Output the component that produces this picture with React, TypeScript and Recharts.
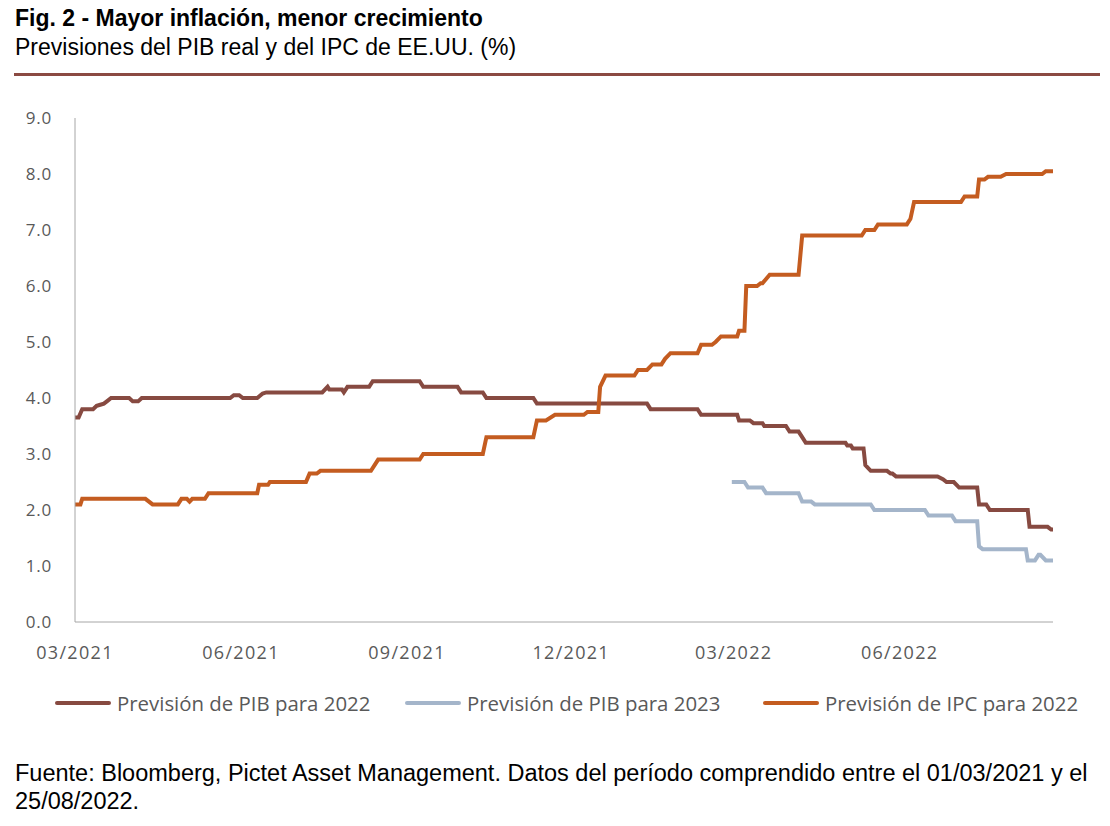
import React from 'react';
import { LineChart, Line, XAxis, YAxis } from 'recharts';

// days counted from 01/03/2021 -> value (%)
const pib2022Days = [0, 2, 4, 10, 12, 14, 16, 18, 20, 30, 32, 35, 37, 86, 88, 91, 93, 101, 104, 106, 137, 140, 141, 148, 149, 151, 163, 165, 191, 193, 212, 214, 226, 228, 254, 256, 317, 319, 345, 347, 367, 368, 374, 376, 381, 382, 394, 396, 401, 403, 405, 427, 428, 430, 431, 437, 438, 441, 450, 452, 453, 455, 478, 481, 483, 487, 490, 500, 501, 505, 507, 528, 529, 539, 541, 542];
const pib2022Values = [3.65, 3.65, 3.8, 3.8, 3.86, 3.88, 3.9, 3.95, 4.0, 4.0, 3.94, 3.94, 4.0, 4.0, 4.05, 4.05, 4.0, 4.0, 4.08, 4.1, 4.1, 4.2, 4.15, 4.15, 4.1, 4.2, 4.2, 4.3, 4.3, 4.2, 4.2, 4.1, 4.1, 4.0, 4.0, 3.9, 3.9, 3.8, 3.8, 3.7, 3.7, 3.6, 3.6, 3.55, 3.55, 3.5, 3.5, 3.4, 3.4, 3.3, 3.2, 3.2, 3.15, 3.15, 3.1, 3.1, 2.8, 2.7, 2.7, 2.65, 2.65, 2.6, 2.6, 2.55, 2.5, 2.5, 2.4, 2.4, 2.1, 2.1, 2.0, 2.0, 1.7, 1.7, 1.65, 1.65];

const pib2023Days = [364, 371, 373, 381, 383, 401, 403, 408, 410, 441, 443, 471, 473, 486, 488, 500, 501, 503, 527, 528, 532, 534, 535, 538, 542];
const pib2023Values = [2.5, 2.5, 2.4, 2.4, 2.3, 2.3, 2.15, 2.15, 2.1, 2.1, 2.0, 2.0, 1.9, 1.9, 1.8, 1.8, 1.35, 1.3, 1.3, 1.1, 1.1, 1.2, 1.2, 1.1, 1.1];

const ipc2022Days = [0, 3, 4, 39, 43, 57, 59, 62, 63.5, 65, 72, 74, 101, 102, 107, 108, 128, 130, 134, 136, 164, 168, 191, 193, 226, 228, 254, 256, 261, 266, 282, 284, 290, 291, 294, 310, 312, 317, 320, 325, 327, 330, 345, 347, 353, 355, 358, 367, 368, 371, 372, 378, 380, 381, 385, 401, 403, 436, 438, 443, 445, 461, 463, 465, 491, 493, 500, 501, 504, 506, 513, 516, 536, 538, 542];
const ipc2022Values = [2.1, 2.1, 2.2, 2.2, 2.1, 2.1, 2.2, 2.2, 2.15, 2.2, 2.2, 2.3, 2.3, 2.45, 2.45, 2.5, 2.5, 2.65, 2.65, 2.7, 2.7, 2.9, 2.9, 3.0, 3.0, 3.3, 3.3, 3.6, 3.6, 3.7, 3.7, 3.75, 3.75, 4.2, 4.4, 4.4, 4.5, 4.5, 4.6, 4.6, 4.7, 4.8, 4.8, 4.95, 4.95, 5.0, 5.1, 5.1, 5.2, 5.2, 6.0, 6.0, 6.05, 6.05, 6.2, 6.2, 6.9, 6.9, 7.0, 7.0, 7.1, 7.1, 7.2, 7.5, 7.5, 7.6, 7.6, 7.9, 7.9, 7.95, 7.95, 8.0, 8.0, 8.05, 8.05];

const tickDays = [0, 92, 184, 275, 365, 457];
const tickLabels = ['03/2021', '06/2021', '09/2021', '12/2021', '03/2022', '06/2022'];
const yTicks = [0, 1, 2, 3, 4, 5, 6, 7, 8, 9];

const seriesNames = ['Previsión de PIB para 2022', 'Previsión de PIB para 2023', 'Previsión de IPC para 2022'];
const seriesColors = ['#874A41', '#A4B5CA', '#C45C20'];

const toPoints = (days: number[], values: number[]) =>
  days.map((d, i) => ({ day: d, value: values[i] }));

const series = [
  toPoints(pib2022Days, pib2022Values),
  toPoints(pib2023Days, pib2023Values),
  toPoints(ipc2022Days, ipc2022Values),
];

const legendX = [55, 405, 763];

export default function App() {
  return (
    <div style={{ position: 'absolute', left: 0, top: 0, width: 1110, height: 826, background: '#fff', fontFamily: '"Liberation Sans", Arial, sans-serif' }}>
      <div style={{ position: 'absolute', left: 15, top: 5, fontSize: 23, fontWeight: 'bold', color: '#000', whiteSpace: 'nowrap' }}>
        Fig. 2 - Mayor inflación, menor crecimiento
      </div>
      <div style={{ position: 'absolute', left: 15, top: 34, fontSize: 23, color: '#000', whiteSpace: 'nowrap' }}>
        Previsiones del PIB real y del IPC de EE.UU. (%)
      </div>
      <div style={{ position: 'absolute', left: 14, top: 73, width: 1086, height: 3, background: '#8B4A42' }} />

      <div style={{ position: 'absolute', left: 0, top: 0 }}>
        <LineChart width={1110} height={700} margin={{ top: 118, right: 57, left: 15, bottom: 48 }}>
          <XAxis
            dataKey="day"
            type="number"
            domain={[0, 542]}
            ticks={tickDays}
            tickFormatter={(v: number) => tickLabels[tickDays.indexOf(v)]}
            allowDuplicatedCategory={false}
            height={30}
            stroke="#a6a6a6"
            tickLine={false}
            tickSize={6}
            tickMargin={18}
            tick={{ fontSize: 18, fill: '#595959', fontFamily: '"Open Sans", sans-serif', letterSpacing: 1.3 }}
          />
          <YAxis
            type="number"
            domain={[0, 9]}
            ticks={yTicks}
            width={60}
            stroke="#a6a6a6"
            tickLine={false}
            tickSize={6}
            tickMargin={17}
            tickFormatter={(v: number) => v.toFixed(1)}
            tick={{ fontSize: 17, fill: '#595959', fontFamily: '"Open Sans", sans-serif', letterSpacing: 0.8 }}
          />
          {series.map((pts, i) => (
            <Line
              key={seriesNames[i]}
              data={pts}
              dataKey="value"
              name={seriesNames[i]}
              type="linear"
              stroke={seriesColors[i]}
              strokeWidth={4}
              dot={false}
              activeDot={false}
              isAnimationActive={false}
            />
          ))}
        </LineChart>
      </div>

      {seriesNames.map((name, i) => (
        <div key={name} style={{ position: 'absolute', left: legendX[i], top: 689, display: 'flex', alignItems: 'center', height: 28 }}>
          <div style={{ width: 56, height: 4, background: seriesColors[i], borderRadius: 2 }} />
          <span style={{ marginLeft: 6, fontSize: 20.4, color: '#595959', fontFamily: '"Open Sans", sans-serif', whiteSpace: 'nowrap' }}>{name}</span>
        </div>
      ))}

      <div style={{ position: 'absolute', left: 15, top: 759, width: 1090, fontSize: 23.5, lineHeight: '28px', color: '#000' }}>
        Fuente: Bloomberg, Pictet Asset Management. Datos del período comprendido entre el 01/03/2021 y el 25/08/2022.
      </div>
    </div>
  );
}
